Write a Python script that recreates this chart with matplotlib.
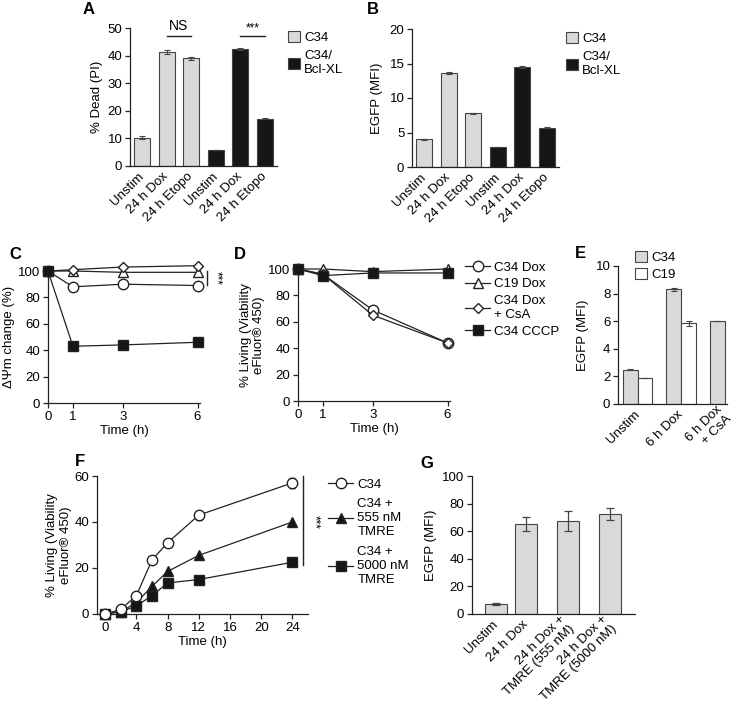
import matplotlib
matplotlib.use('Agg')
import matplotlib.pyplot as plt
from matplotlib.patches import Patch
from matplotlib.lines import Line2D

FS = 9.5
plt.rcParams['font.family'] = ['Liberation Sans', 'DejaVu Sans']
plt.rcParams['font.size'] = FS
plt.rcParams['axes.linewidth'] = 0.9

# ---------------- data ----------------
ab_categories = ['Unstim', '24 h Dox', '24 h Etopo', 'Unstim', '24 h Dox', '24 h Etopo']
ab_lines = ['C34', 'C34', 'C34', 'C34/\nBcl-XL', 'C34/\nBcl-XL', 'C34/\nBcl-XL']
a_values = [10.3, 41.3, 39.0, 5.8, 42.4, 17.2]
a_errors = [0.4, 0.6, 0.5, 0.15, 0.3, 0.3]
b_values = [4.0, 13.6, 7.8, 2.9, 14.5, 5.7]
b_errors = [0.05, 0.15, 0.08, 0.05, 0.08, 0.05]

cd_time = [0, 1, 3, 6]
c_c34_dox = [100, 88, 90, 89]
c_c19_dox = [100, 100, 99, 99]
c_c34_csa = [100, 101, 103, 104]
c_c34_cccp = [100, 43, 44, 46]
d_c34_dox = [100, 96, 69, 44]
d_c19_dox = [100, 100, 98, 100]
d_c34_csa = [100, 96, 65, 44]
d_c34_cccp = [100, 95, 97, 97]
cd_labels = ['C34 Dox', 'C19 Dox', 'C34 Dox\n+ CsA', 'C34 CCCP']

e_categories = ['Unstim', '6 h Dox', '6 h Dox\n+ CsA']
e_c34 = [2.5, 8.3, 6.0]
e_c34_err = [0.05, 0.12, 0.0]
e_c19 = [1.9, 5.85]
e_c19_err = [0.0, 0.2]

f_time = [0, 2, 4, 6, 8, 12, 24]
f_c34 = [0, 2, 8, 23.5, 31, 43, 57]
f_c34_err = [0, 0, 0, 0, 0, 2, 2]
f_555 = [0, 1, 5, 12, 18.5, 25.5, 40]
f_5000 = [0, 1, 3.5, 8, 13.5, 15, 22.5]
f_labels = ['C34', 'C34 +\n555 nM\nTMRE', 'C34 +\n5000 nM\nTMRE']

g_categories = ['Unstim', '24 h Dox', '24 h Dox +\nTMRE (555 nM)', '24 h Dox +\nTMRE (5000 nM)']
g_values = [7, 65, 67.5, 72.5]
g_errors = [0.8, 5, 7.5, 4.5]

# ---------------- layout ----------------
W, H = 733, 714
fig = plt.figure(figsize=(W / 100, H / 100), dpi=100)
GREY = '#d9d9d9'
BLACK = '#161616'
EDGE = '#444444'
LC = '#222222'


def pax(x0, y0, x1, y1):
    return fig.add_axes([x0 / W, 1 - y1 / H, (x1 - x0) / W, (y1 - y0) / H])


def style(ax):
    for s in ['top', 'right']:
        ax.spines[s].set_visible(False)
    for s in ['left', 'bottom']:
        ax.spines[s].set_color(LC)
    ax.tick_params(direction='out', length=3.5, width=0.9, color=LC, labelsize=FS, pad=2)


def letter(x, y, t):
    fig.text(x / W, 1 - y / H, t, fontsize=12, fontweight='bold', ha='center', va='center')


def fx(x):
    return x / W


def fy(y):
    return 1 - y / H


# ---- A ----
axA = pax(130, 28, 277, 166)
style(axA)
pos = list(range(len(a_values)))
colsAB = [GREY if l == 'C34' else BLACK for l in ab_lines]
axA.bar(pos, a_values, width=0.66, color=colsAB, edgecolor=EDGE, linewidth=0.8,
        yerr=a_errors, error_kw=dict(ecolor=EDGE, elinewidth=0.8, capsize=2.5, capthick=0.8))
axA.set_xlim(-0.5, 5.5)
axA.set_ylim(0, 50)
axA.set_yticks([0, 10, 20, 30, 40, 50])
axA.set_xticks(pos)
axA.set_xticklabels(ab_categories, rotation=45, ha='right', va='center', rotation_mode='anchor')
axA.tick_params(axis='x', length=0, pad=6)
axA.set_ylabel('% Dead (PI)', fontsize=FS, labelpad=3)
axA.plot([1, 2], [47, 47], color=LC, lw=1, clip_on=False)
axA.text(1.5, 48.3, 'NS', ha='center', va='bottom', fontsize=10)
axA.plot([4, 5], [47, 47], color=LC, lw=1, clip_on=False)
axA.text(4.5, 47.8, '***', ha='center', va='bottom', fontsize=8.5)
fig.legend(handles=[Patch(facecolor=GREY, edgecolor=EDGE, lw=0.8),
                    Patch(facecolor=BLACK, edgecolor=EDGE, lw=0.8)],
           labels=['C34', 'C34/\nBcl-XL'], loc='upper left',
           bbox_to_anchor=(fx(283), fy(26)), frameon=False, handlelength=0.9,
           handleheight=0.9, handletextpad=0.3, labelspacing=0.45, fontsize=FS, borderaxespad=0)
letter(89, 10, 'A')

# ---- B ----
axB = pax(412, 29, 559, 167)
style(axB)
axB.bar(pos, b_values, width=0.66, color=colsAB, edgecolor=EDGE, linewidth=0.8,
        yerr=b_errors, error_kw=dict(ecolor=EDGE, elinewidth=0.8, capsize=2.5, capthick=0.8))
axB.set_xlim(-0.5, 5.5)
axB.set_ylim(0, 20)
axB.set_yticks([0, 5, 10, 15, 20])
axB.set_xticks(pos)
axB.set_xticklabels(ab_categories, rotation=45, ha='right', va='center', rotation_mode='anchor')
axB.tick_params(axis='x', length=0, pad=6)
axB.set_ylabel('EGFP (MFI)', fontsize=FS, labelpad=5)
fig.legend(handles=[Patch(facecolor=GREY, edgecolor=EDGE, lw=0.8),
                    Patch(facecolor=BLACK, edgecolor=EDGE, lw=0.8)],
           labels=['C34', 'C34/\nBcl-XL'], loc='upper left',
           bbox_to_anchor=(fx(561), fy(27)), frameon=False, handlelength=0.9,
           handleheight=0.9, handletextpad=0.3, labelspacing=0.45, fontsize=FS, borderaxespad=0)
letter(373, 10, 'B')

# ---- C & D ----
mk = dict(color=LC, lw=0.9, clip_on=False, zorder=3)
styles = [dict(marker='o', mfc='white', mec=LC, ms=7.5),
          dict(marker='^', mfc='white', mec=LC, ms=7),
          dict(marker='D', mfc='white', mec=LC, ms=5.5),
          dict(marker='s', mfc=BLACK, mec=LC, ms=6.5)]

axC = pax(48, 271, 200, 403)
style(axC)
for ys, st in zip([c_c34_dox, c_c19_dox, c_c34_csa, c_c34_cccp], styles):
    axC.plot(cd_time, ys, **mk, **st)
axC.set_xlim(0, 6.1)
axC.set_ylim(0, 100)
axC.set_xticks(cd_time)
axC.set_yticks([0, 20, 40, 60, 80, 100])
axC.set_xlabel('Time (h)', fontsize=FS, labelpad=2)
axC.set_ylabel('ΔΨm change (%)', fontsize=FS)
axC.yaxis.set_label_coords(-0.215, 0.5)
axC.plot([6.4, 6.4], [100, 89.5], color=LC, lw=1, clip_on=False)
axC.text(6.75, 94.5, '***', rotation=-90, ha='center', va='center', fontsize=8.5)
letter(15, 254, 'C')

axD = pax(298, 269, 450, 401)
style(axD)
hD = []
for ys, st in zip([d_c34_dox, d_c19_dox, d_c34_csa, d_c34_cccp], styles):
    hD.append(axD.plot(cd_time, ys, **mk, **st)[0])
axD.set_xlim(0, 6.1)
axD.set_ylim(0, 100)
axD.set_xticks(cd_time)
axD.set_yticks([0, 20, 40, 60, 80, 100])
axD.set_xlabel('Time (h)', fontsize=FS, labelpad=2)
axD.set_ylabel('% Living (Viability\neFluor® 450)', fontsize=FS, labelpad=2)
fig.legend(handles=hD, labels=cd_labels, loc='upper left', bbox_to_anchor=(fx(460), fy(256)),
           frameon=False, handlelength=1.9, handletextpad=0.3, labelspacing=0.35,
           fontsize=FS, borderaxespad=0)
letter(240, 254, 'D')

# ---- E ----
axE = pax(618, 266, 727, 404)
style(axE)
bw = 0.34
gpos = [0, 1, 2]
axE.bar([g - bw / 2 for g in gpos], e_c34, width=bw, color=GREY, edgecolor=EDGE, lw=0.8,
        yerr=e_c34_err, error_kw=dict(ecolor=EDGE, elinewidth=0.8, capsize=2, capthick=0.8))
axE.bar([g + bw / 2 for g in gpos[:2]], e_c19, width=bw, color='white', edgecolor=EDGE, lw=0.8,
        yerr=e_c19_err, error_kw=dict(ecolor=EDGE, elinewidth=0.8, capsize=2, capthick=0.8))
axE.set_xlim(-0.45, 2.05)
axE.set_ylim(0, 10)
axE.set_yticks([0, 2, 4, 6, 8, 10])
axE.set_xticks(gpos)
axE.set_xticklabels(e_categories, rotation=45, ha='right', va='center', rotation_mode='anchor')
axE.tick_params(axis='x', length=0, pad=6)
axE.set_ylabel('EGFP (MFI)', fontsize=FS, labelpad=5)
fig.legend(handles=[Patch(facecolor=GREY, edgecolor=EDGE, lw=0.8),
                    Patch(facecolor='white', edgecolor=EDGE, lw=0.8)],
           labels=['C34', 'C19'], loc='upper left',
           bbox_to_anchor=(fx(630), fy(246)), frameon=False, handlelength=0.9,
           handleheight=0.9, handletextpad=0.3, labelspacing=0.3, fontsize=FS, borderaxespad=0)
letter(580, 253, 'E')

# ---- F ----
axF = pax(97, 476, 308, 614)
style(axF)
axF.errorbar(f_time, f_c34, yerr=f_c34_err, color=LC, lw=0.9, marker='o', mfc='white',
             mec=LC, ms=7.5, capsize=2.5, elinewidth=0.8, clip_on=False, zorder=3)
axF.plot(f_time, f_555, color=LC, lw=0.9, marker='^', mfc=BLACK, mec=LC, ms=6.5,
         clip_on=False, zorder=3)
axF.plot(f_time, f_5000, color=LC, lw=0.9, marker='s', mfc=BLACK, mec=LC, ms=6.5,
         clip_on=False, zorder=3)
hF = [Line2D([], [], color=LC, lw=0.9, marker='o', mfc='white', mec=LC, ms=7.5),
      Line2D([], [], color=LC, lw=0.9, marker='^', mfc=BLACK, mec=LC, ms=6.5),
      Line2D([], [], color=LC, lw=0.9, marker='s', mfc=BLACK, mec=LC, ms=6.5)]
axF.set_xlim(-1.05, 26)
axF.set_ylim(0, 60)
axF.set_xticks([0, 4, 8, 12, 16, 20, 24])
axF.set_yticks([0, 20, 40, 60])
axF.set_xlabel('Time (h)', fontsize=FS, labelpad=2)
axF.set_ylabel('% Living (Viability\neFluor® 450)', fontsize=FS, labelpad=2)
axF.plot([25.3, 25.3], [60, 21.5], color=LC, lw=1, clip_on=False)
axF.text(26.8, 40, '***', rotation=-90, ha='center', va='center', fontsize=8.5)
fig.legend(handles=hF, labels=f_labels, loc='upper left', bbox_to_anchor=(fx(323), fy(473)),
           frameon=False, handlelength=1.9, handletextpad=0.3, labelspacing=0.6,
           fontsize=FS, borderaxespad=0)
letter(80, 461, 'F')

# ---- G ----
axG = pax(472, 476, 635, 614)
style(axG)
gx = [0, 1, 2.4, 3.8]
axG.bar(gx, g_values, width=0.73, color=GREY, edgecolor=EDGE, lw=0.8,
        yerr=g_errors, error_kw=dict(ecolor=EDGE, elinewidth=0.9, capsize=3, capthick=0.9))
axG.set_xlim(-0.8, 4.63)
axG.set_ylim(0, 100)
axG.set_yticks([0, 20, 40, 60, 80, 100])
axG.set_xticks(gx)
axG.set_xticklabels(g_categories, rotation=45, ha='right', va='center', rotation_mode='anchor')
axG.tick_params(axis='x', length=0, pad=6)
axG.set_ylabel('EGFP (MFI)', fontsize=FS, labelpad=4)
letter(427, 464, 'G')

fig.savefig('out.png', dpi=100)
